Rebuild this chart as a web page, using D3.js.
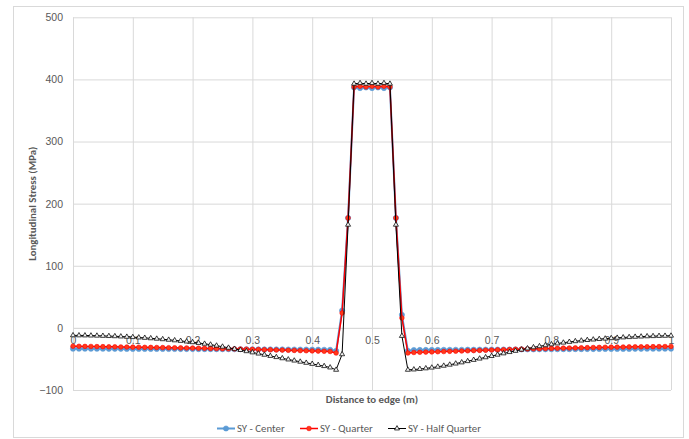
<!DOCTYPE html>
<html>
<head>
<meta charset="utf-8">
<script src="https://cdn.jsdelivr.net/npm/d3@7/dist/d3.min.js"></script>
<style>
  html, body { margin: 0; padding: 0; background: #fff; }
  svg { display: block; font-family: Carlito, Calibri, Lato, "Open Sans", sans-serif; }
</style>
</head>
<body>
<svg id="chart" width="689" height="439"></svg>
<script>
// ---------- DATA ----------
const distance = [
  0.00,0.01,0.02,0.03,0.04,0.05,0.06,0.07,0.08,0.09,
  0.10,0.11,0.12,0.13,0.14,0.15,0.16,0.17,0.18,0.19,
  0.20,0.21,0.22,0.23,0.24,0.25,0.26,0.27,0.28,0.29,
  0.30,0.31,0.32,0.33,0.34,0.35,0.36,0.37,0.38,0.39,
  0.40,0.41,0.42,0.43,0.44,0.45,0.46,0.47,0.48,0.49,
  0.50,0.51,0.52,0.53,0.54,0.55,0.56,0.57,0.58,0.59,
  0.60,0.61,0.62,0.63,0.64,0.65,0.66,0.67,0.68,0.69,
  0.70,0.71,0.72,0.73,0.74,0.75,0.76,0.77,0.78,0.79,
  0.80,0.81,0.82,0.83,0.84,0.85,0.86,0.87,0.88,0.89,
  0.90,0.91,0.92,0.93,0.94,0.95,0.96,0.97,0.98,0.99,
  1.00
];

const syCenter = [
  -33.5,-33.5,-33.5,-33.6,-33.6,-33.6,-33.7,-33.7,-33.7,-33.8,
  -33.8,-33.8,-33.9,-33.9,-33.9,-34.0,-34.0,-34.0,-34.1,-34.1,
  -34.1,-34.2,-34.2,-34.2,-34.3,-34.3,-34.3,-34.4,-34.4,-34.4,
  -34.5,-34.5,-34.6,-34.6,-34.7,-34.7,-34.8,-34.8,-34.9,-34.9,
  -35.0,-35.1,-35.2,-35.3,-37.0,28,177,387,386,387,
  386,387,386,387,177,21,-37.0,-35.6,-35.5,-35.5,
  -35.4,-35.4,-35.3,-35.3,-35.2,-35.2,-35.1,-35.1,-35.0,-35.0,
  -34.9,-34.9,-34.8,-34.8,-34.7,-34.7,-34.6,-34.6,-34.5,-34.5,
  -34.4,-34.4,-34.3,-34.3,-34.2,-34.2,-34.1,-34.1,-34.0,-34.0,
  -33.9,-33.9,-33.8,-33.8,-33.7,-33.7,-33.6,-33.6,-33.5,-33.5,
  -33.5
];

const syQuarter = [
  -29.5,-29.6,-29.8,-29.9,-30.1,-30.2,-30.4,-30.5,-30.7,-30.8,
  -31.0,-31.1,-31.3,-31.4,-31.6,-31.7,-31.9,-32.0,-32.2,-32.3,
  -32.5,-32.7,-32.9,-33.1,-33.3,-33.5,-33.7,-33.9,-34.1,-34.3,
  -34.6,-34.8,-35.1,-35.3,-35.6,-35.8,-36.1,-36.3,-36.6,-36.8,
  -37.1,-37.4,-37.7,-38.0,-40.5,24,177,388,389,388,
  389,388,389,388,177,16,-40.5,-39.6,-39.3,-39.0,
  -38.7,-38.4,-38.1,-37.8,-37.5,-37.2,-36.9,-36.6,-36.3,-36.0,
  -35.7,-35.4,-35.1,-34.8,-34.5,-34.2,-34.0,-33.7,-33.5,-33.2,
  -33.0,-32.8,-32.6,-32.4,-32.2,-32.0,-31.8,-31.6,-31.4,-31.2,
  -31.0,-30.9,-30.8,-30.6,-30.5,-30.4,-30.3,-30.2,-30.1,-30.0,
  -29.9
];

const syHalfQuarter = [
  -12.0,-12.1,-12.2,-12.4,-12.6,-12.9,-13.2,-13.5,-13.9,-14.4,
  -14.9,-15.5,-16.1,-16.8,-17.5,-18.3,-19.2,-20.1,-21.0,-22.0,
  -23.1,-24.3,-25.6,-27.0,-28.6,-30.3,-32.0,-33.8,-35.7,-37.6,
  -39.5,-41.4,-43.3,-45.2,-47.1,-49.0,-50.9,-52.7,-54.5,-56.3,
  -58.0,-59.8,-61.6,-63.8,-67.5,-42.5,166,393,394,393,
  394,393,394,393,166,-13,-67.5,-67.0,-66.2,-65.2,
  -64.0,-62.6,-61.0,-59.3,-57.5,-55.6,-53.6,-51.6,-49.5,-47.4,
  -45.3,-43.2,-41.1,-39.0,-37.0,-35.0,-33.1,-31.3,-29.6,-28.0,
  -26.5,-25.1,-23.8,-22.6,-21.5,-20.5,-19.6,-18.8,-18.0,-17.3,
  -16.6,-16.0,-15.4,-14.9,-14.4,-14.0,-13.6,-13.3,-13.0,-12.8,
  -12.6
];

const seriesNames = ["SY - Center", "SY - Quarter", "SY - Half Quarter"];
const xTicks = [0, 0.1, 0.2, 0.3, 0.4, 0.5, 0.6, 0.7, 0.8, 0.9, 1];
const xTickLabels = ["0", "0.1", "0.2", "0.3", "0.4", "0.5", "0.6", "0.7", "0.8", "0.9", "1"];
const yTicks = [-100, 0, 100, 200, 300, 400, 500];
const xTitle = "Distance to edge (m)";
const yTitle = "Longitudinal Stress (MPa)";

// ---------- LAYOUT ----------
const svg = d3.select("#chart");
const plot = { left: 73, right: 671, top: 17.3, bottom: 390 };

const x = d3.scaleLinear().domain([0, 1]).range([plot.left, plot.right]);
const y = d3.scaleLinear().domain([-100, 500]).range([plot.bottom, plot.top]);

const gridColor = "#D9D9D9";
const labelColor = "#595959";

// outer chart border
svg.append("rect")
  .attr("x", 13.5).attr("y", 6.5).attr("width", 670).attr("height", 431)
  .attr("fill", "#fff").attr("stroke", gridColor).attr("stroke-width", 1);

// horizontal gridlines
svg.append("g")
  .attr("transform", `translate(${plot.left},0)`)
  .call(d3.axisLeft(y).tickValues(yTicks).tickSize(-(plot.right - plot.left)).tickFormat(""))
  .call(g => g.select(".domain").remove())
  .call(g => g.selectAll("line").attr("stroke", gridColor).attr("stroke-width", 1));

// vertical gridlines
svg.append("g")
  .attr("transform", `translate(0,${plot.bottom})`)
  .call(d3.axisBottom(x).tickValues(xTicks).tickSize(-(plot.bottom - plot.top)).tickFormat(""))
  .call(g => g.select(".domain").remove())
  .call(g => g.selectAll("line").attr("stroke", gridColor).attr("stroke-width", 1));

// y tick labels
svg.append("g")
  .attr("transform", `translate(${plot.left},0)`)
  .call(d3.axisLeft(y).tickValues(yTicks).tickSize(0).tickPadding(10).tickFormat(d3.format("d")))
  .call(g => g.select(".domain").remove())
  .call(g => g.selectAll("text").attr("fill", labelColor).style("font-size", "10.5px"));

// x axis at y = 0
svg.append("g")
  .attr("transform", `translate(0,${y(0)})`)
  .call(d3.axisBottom(x).tickValues(xTicks).tickSize(0).tickPadding(9)
    .tickFormat((d, i) => xTickLabels[i]))
  .call(g => g.select(".domain").attr("stroke", gridColor))
  .call(g => g.selectAll("text").attr("fill", labelColor).style("font-size", "10.5px"));

// axis titles
svg.append("text")
  .attr("x", (plot.left + plot.right) / 2).attr("y", 403)
  .attr("text-anchor", "middle").attr("fill", labelColor)
  .style("font-size", "10.8px").style("font-weight", "bold")
  .text(xTitle);

svg.append("text")
  .attr("transform", `translate(36,${(plot.top + plot.bottom) / 2}) rotate(-90)`)
  .attr("text-anchor", "middle").attr("fill", labelColor)
  .style("font-size", "10.8px").style("font-weight", "bold")
  .text(yTitle);

// ---------- SERIES ----------
const series = [
  { name: seriesNames[0], values: syCenter, color: "#5B9BD5", width: 2, marker: "circle", mfill: "#5B9BD5", mstroke: "#5B9BD5", r: 2.6 },
  { name: seriesNames[1], values: syQuarter, color: "#FF0000", width: 1.5, marker: "circle", mfill: "#FF3A1A", mstroke: "#FF0000", r: 2.3 },
  { name: seriesNames[2], values: syHalfQuarter, color: "#000000", width: 1, marker: "triangle", mfill: "#F2F2F2", mstroke: "#000000", r: 2.8 }
];

const line = d3.line().x(d => x(d[0])).y(d => y(d[1]));
const triSym = d3.symbol().type(d3.symbolTriangle).size(11);

function drawMarker(g, s, px, py) {
  if (s.marker === "circle") {
    g.append("circle").attr("cx", px).attr("cy", py).attr("r", s.r)
      .attr("fill", s.mfill).attr("stroke", s.mstroke).attr("stroke-width", 0.6);
  } else {
    g.append("path").attr("d", triSym()).attr("transform", `translate(${px},${py})`)
      .attr("fill", s.mfill).attr("stroke", s.mstroke).attr("stroke-width", 0.75);
  }
}

series.forEach(s => {
  const pts = distance.map((d, i) => [d, s.values[i]]);
  const g = svg.append("g");
  g.append("path").datum(pts).attr("d", line)
    .attr("fill", "none").attr("stroke", s.color).attr("stroke-width", s.width)
    .attr("stroke-linejoin", "round");
  pts.forEach(p => drawMarker(g, s, x(p[0]), y(p[1])));
});

// ---------- LEGEND ----------
const legendItems = [
  { s: series[0], x0: 217, tx: 237 },
  { s: series[1], x0: 300, tx: 320 },
  { s: series[2], x0: 388, tx: 408 }
];
const ly = 428.5;
legendItems.forEach(it => {
  const g = svg.append("g");
  g.append("line").attr("x1", it.x0).attr("x2", it.x0 + 18).attr("y1", ly).attr("y2", ly)
    .attr("stroke", it.s.color).attr("stroke-width", it.s.width);
  drawMarker(g, it.s, it.x0 + 9, ly);
  g.append("text").attr("x", it.tx).attr("y", ly).attr("dy", "0.35em")
    .attr("fill", labelColor).style("font-size", "10.8px").text(it.s.name);
});
</script>
</body>
</html>
